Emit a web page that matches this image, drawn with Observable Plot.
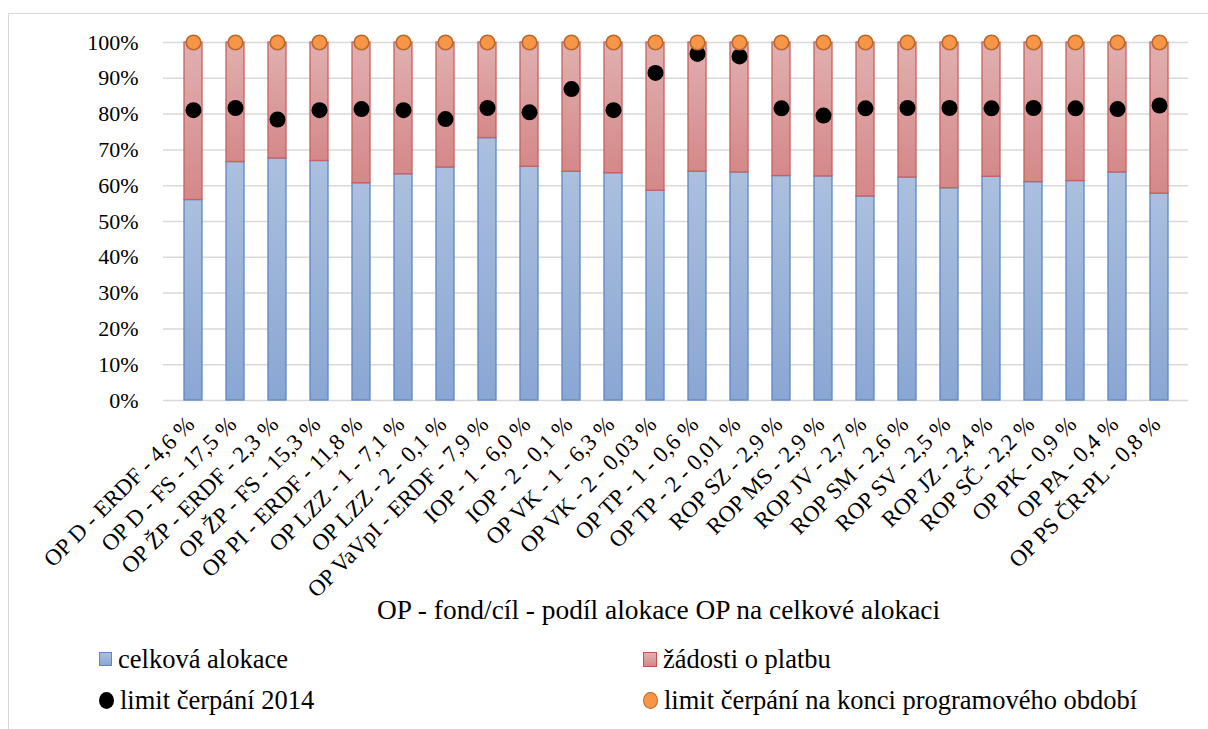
<!DOCTYPE html>
<html><head><meta charset="utf-8">
<script src="https://cdn.jsdelivr.net/npm/d3@7"></script>
<script src="https://cdn.jsdelivr.net/npm/@observablehq/plot@0.6"></script>
<style>
html,body{margin:0;padding:0;background:#fff;overflow:hidden;width:1208px;height:729px;}
body{font-family:"Liberation Serif","Times New Roman",serif;color:#000;position:relative;}
#frame{position:absolute;left:8px;top:13px;width:1400px;height:900px;border:1px solid #d9d9d9;box-sizing:border-box;}
#chart{position:absolute;left:0;top:0;}
#xtitle{position:absolute;left:377px;top:592px;font-size:27.4px;white-space:nowrap;line-height:36px;}
.leg{position:absolute;font-size:26.5px;white-space:nowrap;line-height:30px;display:flex;align-items:center;}
.sw{display:inline-block;margin-right:6px;box-sizing:border-box;}
</style></head>
<body>
<div id="frame"></div>
<div id="chart"></div>
<div id="xtitle"></div>
<div id="legend"></div>
<script>
const categories = ["OP D - ERDF - 4,6 %", "OP D - FS - 17,5 %", "OP ŽP - ERDF - 2,3 %", "OP ŽP - FS - 15,3 %", "OP PI - ERDF - 11,8 %", "OP LZZ - 1 - 7,1 %", "OP LZZ - 2 - 0,1 %", "OP VaVpI - ERDF - 7,9 %", "IOP - 1 - 6,0 %", "IOP - 2 - 0,1 %", "OP VK - 1 - 6,3 %", "OP VK - 2 - 0,03 %", "OP TP - 1 - 0,6 %", "OP TP - 2 - 0,01 %", "ROP SZ - 2,9 %", "ROP MS - 2,9 %", "ROP JV - 2,7 %", "ROP SM - 2,6 %", "ROP SV - 2,5 %", "ROP JZ - 2,4 %", "ROP SČ - 2,2 %", "OP PK - 0,9 %", "OP PA - 0,4 %", "OP PS ČR-PL - 0,8 %"];
const celkovaAlokace = [56.0, 66.6, 67.6, 66.9, 60.7, 63.2, 65.1, 73.3, 65.3, 63.9, 63.5, 58.6, 63.9, 63.7, 62.7, 62.6, 57.0, 62.3, 59.3, 62.5, 61.0, 61.3, 63.7, 57.8];
const zadostiOPlatbu = [44.0, 33.4, 32.4, 33.1, 39.3, 36.8, 34.9, 26.7, 34.7, 36.1, 36.5, 41.4, 36.1, 36.3, 37.3, 37.4, 43.0, 37.7, 40.7, 37.5, 39.0, 38.7, 36.3, 42.2];
const limit2014 = [81.1, 81.7, 78.5, 81.1, 81.4, 81.1, 78.6, 81.7, 80.5, 87.0, 81.1, 91.5, 96.8, 96.1, 81.6, 79.6, 81.6, 81.7, 81.7, 81.6, 81.7, 81.6, 81.4, 82.4];
const limitKonec = [100, 100, 100, 100, 100, 100, 100, 100, 100, 100, 100, 100, 100, 100, 100, 100, 100, 100, 100, 100, 100, 100, 100, 100];
const yTicks = [0, 10, 20, 30, 40, 50, 60, 70, 80, 90, 100];
const seriesNames = ["celková alokace", "žádosti o platbu", "limit čerpání 2014", "limit čerpání na konci programového období"];
const xTitle = "OP - fond/cíl - podíl alokace OP na celkové alokaci";

const rows = categories.map((c, i) => ({
  cat: c,
  blue: celkovaAlokace[i],
  red: zadostiOPlatbu[i],
  l2014: limit2014[i],
  lEnd: limitKonec[i]
}));

const chart = Plot.plot({
  width: 1208,
  height: 600,
  marginTop: 42,
  marginBottom: 200,
  marginLeft: 163,
  marginRight: 20,
  style: {fontFamily: "'Liberation Serif','Times New Roman',serif", color: "#000", background: "transparent", overflow: "visible"},
  x: {domain: categories, paddingInner: 0.58, paddingOuter: 0.29, label: null},
  y: {domain: [0, 100], label: null},
  marks: [
    Plot.gridY(yTicks, {stroke: "#d9d9d9", strokeOpacity: 1, strokeWidth: 1.5}),
    Plot.axisY(yTicks, {tickSize: 0, tickPadding: 25, tickFormat: d => d + "%", fontSize: 22, label: null}),
    Plot.axisX({tickSize: 0, tickRotate: -45, tickPadding: 10, dx: -3, dy: 10, fontSize: 23, label: null}),
    Plot.barY(rows, {x: "cat", y1: 0, y2: "blue", fill: "url(#gBlue)", stroke: "#5b87c6", strokeWidth: 1.3}),
    Plot.barY(rows, {x: "cat", y1: "blue", y2: d => d.blue + d.red, fill: "url(#gRed)", stroke: "#c9605e", strokeWidth: 1.3}),
    Plot.dot(rows, {x: "cat", y: "l2014", r: 8, fill: "#000", stroke: "none"}),
    Plot.dot(rows, {x: "cat", y: "lEnd", r: 7.3, fill: "#f79646", stroke: "#b8692c", strokeWidth: 1.6})
  ]
});

const svg = d3.select(chart);
const defs = svg.insert("defs", ":first-child");
function grad(id, top, bottom) {
  const g = defs.append("linearGradient").attr("id", id).attr("x1", 0).attr("y1", 0).attr("x2", 0).attr("y2", 1);
  g.append("stop").attr("offset", "0%").attr("stop-color", top);
  g.append("stop").attr("offset", "100%").attr("stop-color", bottom);
}
grad("gBlue", "#abc0de", "#8aa6d3");
grad("gRed", "#e1b0b0", "#d48889");
document.getElementById("chart").appendChild(chart);

document.getElementById("xtitle").textContent = xTitle;

const legend = document.getElementById("legend");
const legItems = [
  {name: seriesNames[0], left: 99, top: 644, sw: "width:13px;height:14px;background:linear-gradient(#abc0de,#8aa6d3);border:1px solid #5b87c6;"},
  {name: seriesNames[1], left: 643, top: 644, sw: "width:14px;height:15px;background:linear-gradient(#e1b0b0,#d48889);border:1px solid #c0504d;"},
  {name: seriesNames[2], left: 99, top: 685, sw: "width:15px;height:17px;border-radius:50%;background:#000;"},
  {name: seriesNames[3], left: 643, top: 685, sw: "width:15px;height:17px;border-radius:50%;background:#f79646;border:1.5px solid #b8692c;"}
];
for (const it of legItems) {
  const d = document.createElement("div");
  d.className = "leg";
  d.style.left = it.left + "px";
  d.style.top = it.top + "px";
  const s = document.createElement("span");
  s.className = "sw";
  s.style.cssText += it.sw;
  d.appendChild(s);
  const t = document.createElement("span");
  t.textContent = it.name;
  d.appendChild(t);
  legend.appendChild(d);
}
</script>
</body></html>
